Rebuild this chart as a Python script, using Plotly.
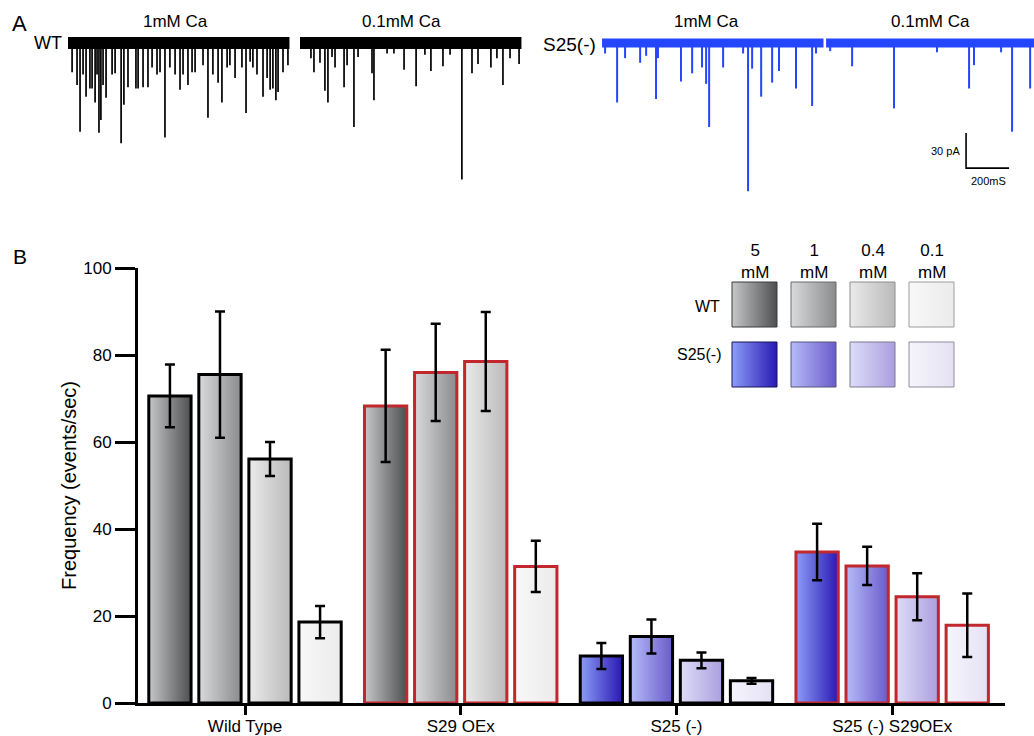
import plotly.graph_objects as go

W, H = 1034, 736

# ================= DATA =================
# Panel B: mean frequency (events/sec) and SEM
groups = ["Wild Type", "S29 OEx", "S25 (-)", "S25 (-) S29OEx"]
conc_labels = ["5<br>mM", "1<br>mM", "0.4<br>mM", "0.1<br>mM"]
freq_wt = [70.6, 75.5, 56.1, 18.6]
freq_s29oex = [68.3, 76.0, 78.5, 31.4]
freq_s25 = [10.8, 15.3, 9.8, 5.1]
freq_s25_s29oex = [34.7, 31.5, 24.4, 17.9]
sem_wt = [7.2, 14.5, 3.9, 3.7]
sem_s29oex = [12.9, 11.2, 11.4, 5.9]
sem_s25 = [3.0, 3.9, 1.8, 0.65]
sem_s25_s29oex = [6.5, 4.4, 5.4, 7.3]

# Panel A: recorded miniature events (time in ms within sweep, amplitude in pA)
wt_1mM_t = [19, 42, 56, 70, 84, 102, 112, 126, 135, 144, 153, 163, 177, 205, 219, 247, 260, 279,
            316, 326, 349, 372, 391, 414, 428, 451, 474, 498, 521, 535, 558, 577, 591, 628, 651,
            674, 698, 716, 740, 753, 777, 809, 828, 847, 860, 879, 907, 926, 940, 953, 967, 977,
            1000, 1023]
wt_1mM_amp = [25, 36, 76, 27, 46, 39, 39, 51, 27, 77, 66, 36, 47, 27, 26, 86, 53, 38,
              39, 39, 38, 38, 21, 27, 25, 81, 21, 27, 40, 27, 36, 25, 25, 19, 64,
              27, 34, 51, 21, 19, 30, 21, 60, 16, 21, 27, 46, 30, 40, 39, 49, 42,
              25, 19]
wt_01mM_t = [51, 65, 93, 116, 130, 149, 163, 205, 219, 251, 270, 335, 344, 405, 437, 484, 540,
             581, 609, 665, 698, 753, 800, 828, 888, 916, 944, 977, 1019]
wt_01mM_amp = [13, 25, 17, 41, 51, 12, 21, 38, 19, 72, 12, 26, 49, 9, 9, 23, 37,
               10, 24, 20, 10, 117, 26, 18, 21, 13, 36, 13, 18]
s25_1mM_t = [14, 70, 107, 177, 205, 251, 260, 367, 419, 465, 484, 498, 563, 656, 679, 698, 740,
             791, 823, 902, 977, 995]
s25_1mM_amp = [9, 51, 13, 17, 11, 48, 13, 33, 26, 21, 35, 72, 21, 9, 127, 22, 46,
               34, 24, 39, 54, 9]
s25_01mM_t = [19, 121, 316, 516, 665, 688, 814, 865, 949]
s25_01mM_amp = [7, 20, 56, 8, 39, 19, 8, 76, 39]
sweep_ms = 1030
scalebar_ms = 200
scalebar_pA = 30

# ================= STYLE / LAYOUT CONSTANTS =================
FONT = "Arial, Liberation Sans, Helvetica, sans-serif"
GRAY_SCALES = [("#c6c7c9", "#4e4f51"), ("#d9dadc", "#8a8b8d"), ("#eaeaeb", "#bababa"), ("#f8f8f8", "#ebebeb")]
BLUE_SCALES = [("#8c9df7", "#2a18b3"), ("#b5bcf8", "#6a5bcb"), ("#dddcf8", "#ab9fde"), ("#f5f5fd", "#e5e1f4")]
RED = "#c1272d"
BLUE = "#2446ff"

def px(x):
    return x / W

def py(y):
    return 1 - y / H

fig = go.Figure()

# ---------- Panel B bars ----------
values = [freq_wt, freq_s29oex, freq_s25, freq_s25_s29oex]
errors = [sem_wt, sem_s29oex, sem_s25, sem_s25_s29oex]
palettes = [GRAY_SCALES, GRAY_SCALES, BLUE_SCALES, BLUE_SCALES]
outline = ["black", RED, "black", RED]
offsets = [-0.348, -0.116, 0.116, 0.348]
BW = 0.196

# gradient fills (base axes)
for g in range(4):
    for k in range(4):
        xc = g + offsets[k]
        x0, x1 = xc - BW / 2, xc + BW / 2
        v = values[g][k]
        left, right = palettes[g][k]
        fig.add_trace(go.Scatter(
            x=[x0, x1, x1, x0, x0], y=[0, 0, v, v, 0],
            mode="none", fill="toself",
            fillgradient=dict(type="horizontal", colorscale=[[0, left], [1, right]],
                              start=x0, stop=x1),
            hoverinfo="skip", showlegend=False, xaxis="x", yaxis="y"))

# outlines + error bars (overlay axes)
for k in range(4):
    fig.add_trace(go.Bar(
        x=[g + offsets[k] for g in range(4)],
        y=[values[g][k] for g in range(4)],
        width=BW,
        marker=dict(color="rgba(0,0,0,0)", line=dict(color=outline, width=3)),
        error_y=dict(type="data", array=[errors[g][k] for g in range(4)],
                     color="black", thickness=2.5, width=5),
        showlegend=False, xaxis="x2", yaxis="y2"))

# ---------- Panel A traces ----------
sweeps = [
    (wt_1mM_t, wt_1mM_amp, 0, "black", 12, 1.7),
    (wt_01mM_t, wt_01mM_amp, 1079, "black", 12, 1.7),
    (s25_1mM_t, s25_1mM_amp, 2484, BLUE, 9, 2.0),
    (s25_01mM_t, s25_01mM_amp, 3526, BLUE, 9, 2.0),
]
for ts, amps, start, color, bandw, spikew in sweeps:
    fig.add_trace(go.Scatter(x=[start, start + sweep_ms], y=[0, 0], mode="lines",
                             line=dict(color=color, width=bandw), hoverinfo="skip",
                             showlegend=False, xaxis="x3", yaxis="y3"))
    xs, ys = [], []
    for t, a in zip(ts, amps):
        xs += [start + t, start + t, None]
        ys += [0, -a, None]
    fig.add_trace(go.Scatter(x=xs, y=ys, mode="lines", line=dict(color=color, width=spikew),
                             hoverinfo="skip", showlegend=False, xaxis="x3", yaxis="y3"))

# scale bar
SB_X, SB_Y = 4177, -107.2
fig.add_trace(go.Scatter(x=[SB_X, SB_X, SB_X + scalebar_ms], y=[SB_Y + scalebar_pA, SB_Y, SB_Y],
                         mode="lines", line=dict(color="black", width=1.6), hoverinfo="skip",
                         showlegend=False, xaxis="x3", yaxis="y3"))

# ---------- Legend swatches (pixel axes) ----------
sw_x = [732, 791, 850, 909]
sw_y = [282, 342]
sw_size = 45
sw_lines = [["#3a3a3a", "#6a6a6a", "#8c8c8c", "#9c9c9c"], ["#14145a", "#55557a", "#7a7a8e", "#8e8e9c"]]
for r, pal in enumerate([GRAY_SCALES, BLUE_SCALES]):
    for k in range(4):
        x0, y0 = sw_x[k], sw_y[r]
        x1, y1 = x0 + sw_size, y0 + sw_size
        fig.add_trace(go.Scatter(
            x=[x0, x1, x1, x0, x0], y=[y0, y0, y1, y1, y0], mode="lines", fill="toself",
            line=dict(color=sw_lines[r][k], width=1),
            fillgradient=dict(type="horizontal", colorscale=[[0, pal[k][0]], [1, pal[k][1]]],
                              start=x0, stop=x1),
            hoverinfo="skip", showlegend=False, xaxis="x4", yaxis="y4"))

# ---------- Annotations ----------
ann = []
def text(x, y, s, size, xanchor="center", color="black"):
    ann.append(dict(x=px(x), y=py(y), xref="paper", yref="paper", text=s, showarrow=False,
                    xanchor=xanchor, yanchor="middle", font=dict(family=FONT, size=size, color=color)))

text(19, 23, "A", 22)
text(20, 256, "B", 21)
text(64, 43, "WT", 18, "right")
text(598, 44, "S25(-)", 19, "right")
text(175, 22, "1mM Ca", 17)
text(401, 22, "0.1mM Ca", 17)
text(706, 22, "1mM Ca", 17)
text(930, 22, "0.1mM Ca", 17)
text(962, 151, "30 pA", 11, "right")
text(988, 181, "200mS", 11)
for k in range(4):
    text(sw_x[k] + sw_size / 2, 261, conc_labels[k], 17)
text(722, 306, "WT", 16, "right")
text(723, 354, "S25(-)", 16, "right")

# ================= LAYOUT =================
x_dom = [px(138), px(1005)]
y_dom = [py(703), py(268)]
xr = [-0.496, 3.523]
hidden = dict(visible=False, automargin=False, fixedrange=True)
fig.update_layout(
    template="none",
    width=W, height=H, margin=dict(l=0, r=0, t=0, b=0, pad=0, autoexpand=False),
    paper_bgcolor="white", plot_bgcolor="rgba(0,0,0,0)",
    barmode="overlay", showlegend=False,
    font=dict(family=FONT, color="black"),
    annotations=ann,
    xaxis=dict(domain=x_dom, range=xr, tickvals=[0, 1, 2, 3], ticktext=groups,
               showline=True, linewidth=3, linecolor="black", ticks="outside", ticklen=9,
               tickwidth=3, tickcolor="black", showgrid=False, zeroline=False,
               ticklabelstandoff=-3,
               tickfont=dict(size=17, family=FONT), anchor="y", fixedrange=True, automargin=False),
    yaxis=dict(domain=y_dom, range=[0, 100], tickvals=[0, 20, 40, 60, 80, 100],
               showline=True, linewidth=3, linecolor="black", ticks="outside", ticklen=20,
               tickwidth=3, tickcolor="black", showgrid=False, zeroline=False,
               tickfont=dict(size=17, family=FONT), anchor="x", fixedrange=True, automargin=False,
               title=dict(text="Frequency (events/sec)", font=dict(size=20, family=FONT), standoff=2)),
    xaxis2=dict(overlaying="x", range=xr, anchor="y2", **hidden),
    yaxis2=dict(overlaying="y", range=[0, 100], anchor="x2", **hidden),
    xaxis3=dict(domain=[0, 1], range=[-316.3, 4493], anchor="y3", **hidden),
    yaxis3=dict(domain=[py(200), 1], range=[-134.5, 36.8], anchor="x3", **hidden),
    xaxis4=dict(domain=[0, 1], range=[0, W], anchor="y4", **hidden),
    yaxis4=dict(domain=[0, 1], range=[H, 0], anchor="x4", **hidden),
)

fig.write_html("out.html", config={"displayModeBar": False},
               post_script="document.body.style.margin='0';document.body.style.overflow='hidden';")
